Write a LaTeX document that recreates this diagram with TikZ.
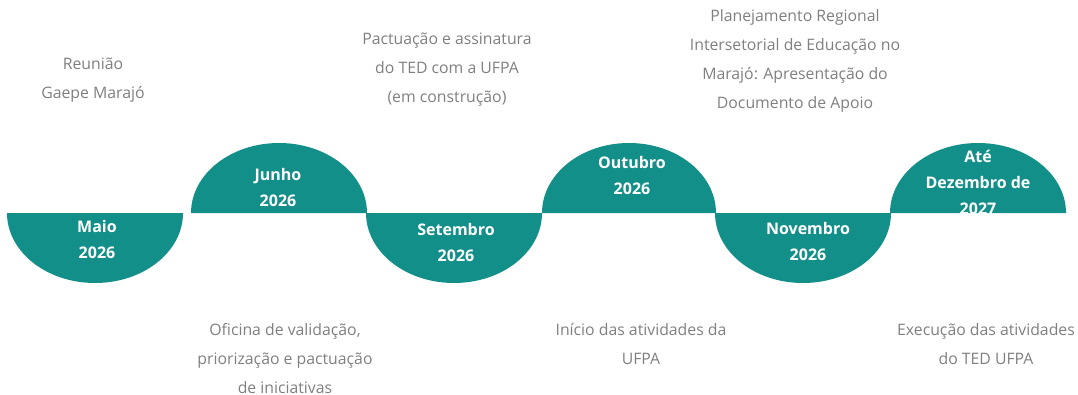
\documentclass[tikz,border=0pt]{standalone}
\usepackage{fontspec}
\setmainfont{Open Sans}
\definecolor{teal1}{RGB}{19,143,137}
\definecolor{txtgray}{RGB}{127,127,127}
\tikzset{
  disclabel/.style={align=center, text=white, font=\bfseries\fontsize{16}{26}\selectfont, inner sep=0pt},
  desc/.style={align=center, text=txtgray, font=\fontsize{15.8}{29}\selectfont, inner sep=0pt},
  halfdisc/.style={fill=teal1}
}
\begin{document}
\begin{tikzpicture}[x=1pt,y=1pt]
\useasboundingbox (0,0) rectangle (1078,394);
% discs: baseline y=181, rx=88, ry=70
\fill[halfdisc] (7,181) arc[start angle=180, end angle=360, x radius=88pt, y radius=70pt] -- cycle;
\fill[halfdisc] (191,181) arc[start angle=180, end angle=0, x radius=88pt, y radius=70pt] -- cycle;
\fill[halfdisc] (366,181) arc[start angle=180, end angle=360, x radius=88pt, y radius=70pt] -- cycle;
\fill[halfdisc] (542,181) arc[start angle=180, end angle=0, x radius=87pt, y radius=70pt] -- cycle;
\fill[halfdisc] (715,181) arc[start angle=180, end angle=360, x radius=88pt, y radius=70pt] -- cycle;
\fill[halfdisc] (890,181) arc[start angle=180, end angle=0, x radius=88pt, y radius=70pt] -- cycle;
% disc labels
\node[disclabel] (maio) at (97,155) {Maio\\2026};
\node[disclabel] (junho) at (278,206) {Junho\\2026};
\node[disclabel] (setembro) at (456,152) {Setembro\\2026};
\node[disclabel] (outubro) at (632,218) {Outubro\\2026};
\node[disclabel] (novembro) at (808,152.5) {Novembro\\2026};
\node[disclabel] (ate) at (978,212) {Até\\Dezembro de\\2027};
% descriptions
\node[desc] (d1) at (93,314) {Reunião\\Gaepe Marajó};
\node[desc] (d2) at (285,35.5) {Oficina de validação,\\priorização e pactuação\\de iniciativas};
\node[desc] (d3) at (447,324) {Pactuação e assinatura\\do TED com a UFPA\\(em construção)};
\node[desc] (d4) at (641,50) {Início das atividades da\\UFPA};
\node[desc] (d5) at (795,333.5) {Planejamento Regional\\Intersetorial de Educação no\\Marajó: Apresentação do\\Documento de Apoio};
\node[desc] (d6) at (986,50) {Execução das atividades\\do TED UFPA};
\end{tikzpicture}
\end{document}
